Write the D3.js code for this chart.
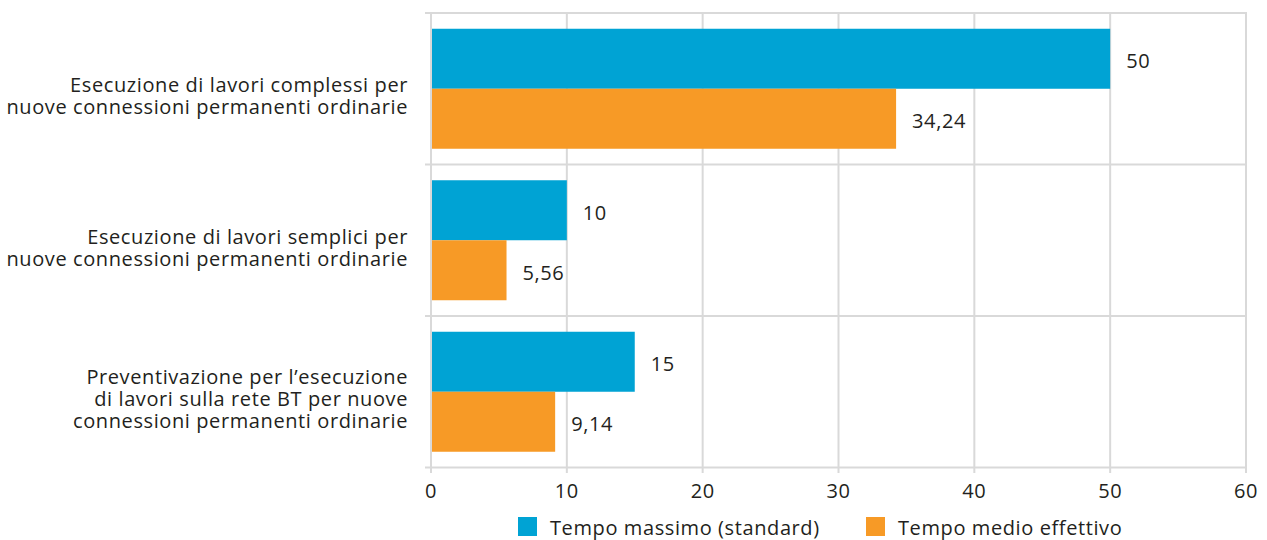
<!DOCTYPE html>
<meta charset="utf-8">
<html>
<head>
	<script src="https://cdn.jsdelivr.net/npm/d3@7"></script>
	<style>
		body { margin: 0; background: #fff; }
		text { font-family: "Open Sans", sans-serif; fill: #231f20; letter-spacing: 0.6px; }
	</style>
</head>
<body>
	<svg id="chart" width="1267" height="540"></svg>
	<script>
		// categories, top to bottom (each one split in lines)
		var categories = [
			["Esecuzione di lavori complessi per", "nuove connessioni permanenti ordinarie"],
			["Esecuzione di lavori semplici per", "nuove connessioni permanenti ordinarie"],
			["Preventivazione per l\u2019esecuzione", "di lavori sulla rete BT per nuove", "connessioni permanenti ordinarie"]
		];
		var seriesNames = ["Tempo massimo (standard)", "Tempo medio effettivo"];
		var tempoMassimo = [50, 10, 15];
		var tempoMedio = [34.24, 5.56, 9.14];
		var xTicks = [0, 10, 20, 30, 40, 50, 60];

		var colors = ["#00a3d4", "#f79a26"];
		var gridColor = "#d9d9d9";

		var svg = d3.select("#chart");

		var x = d3.scaleLinear()
			.domain([0, 60])
			.range([431, 1246]);

		var y = d3.scaleBand()
			.domain(d3.range(categories.length))
			.range([13, 467.5]);

		var ySub = d3.scaleBand()
			.domain([0, 1])
			.range([0, y.bandwidth()])
			.paddingOuter(0.2625);

		var fmt = function(v) { return String(v).replace(".", ","); };

		// vertical grid lines (with the tick marks below the axis)
		svg.append("g")
			.selectAll("line")
			.data(xTicks)
			.join("line")
				.attr("x1", function(d) { return x(d); })
				.attr("x2", function(d) { return x(d); })
				.attr("y1", 13)
				.attr("y2", 473)
				.attr("stroke", gridColor)
				.attr("stroke-width", 2);

		// horizontal lines between categories
		var bounds = d3.range(categories.length).map(function(i) { return y(i); }).concat([y.range()[1]]);
		svg.append("g")
			.selectAll("line")
			.data(bounds)
			.join("line")
				.attr("x1", 425)
				.attr("x2", x(60) + 1)
				.attr("y1", function(d) { return d; })
				.attr("y2", function(d) { return d; })
				.attr("stroke", gridColor)
				.attr("stroke-width", 2);

		// bars
		var rows = categories.map(function(c, i) {
			return [tempoMassimo[i], tempoMedio[i]];
		});

		var groups = svg.append("g")
			.selectAll("g")
			.data(rows)
			.join("g")
				.attr("transform", function(d, i) { return "translate(0," + y(i) + ")"; });

		groups.selectAll("rect")
			.data(function(d) { return d; })
			.join("rect")
				.attr("x", x(0) + 1)
				.attr("y", function(d, j) { return ySub(j); })
				.attr("width", function(d) { return x(d) - x(0) - 1; })
				.attr("height", ySub.bandwidth())
				.attr("fill", function(d, j) { return colors[j]; });

		groups.selectAll("text")
			.data(function(d) { return d; })
			.join("text")
				.attr("x", function(d) { return x(d) + 16; })
				.attr("y", function(d, j) { return ySub(j) + ySub.bandwidth() / 2 + 2; })
				.attr("dominant-baseline", "central")
				.attr("font-size", 20)
				.text(fmt);

		// category labels
		var lineH = 22;
		svg.append("g")
			.selectAll("text")
			.data(categories)
			.join("text")
				.attr("text-anchor", "end")
				.attr("font-size", 20)
				.each(function(lines, i) {
					var cy = y(i) + y.bandwidth() / 2 + 7;
					var t = d3.select(this);
					lines.forEach(function(l, k) {
						t.append("tspan")
							.attr("x", 408)
							.attr("y", cy + (k - (lines.length - 1) / 2) * lineH)
							.attr("dominant-baseline", "central")
							.text(l);
					});
				});

		// x axis tick labels
		svg.append("g")
			.selectAll("text")
			.data(xTicks)
			.join("text")
				.attr("x", function(d) { return x(d); })
				.attr("y", 490)
				.attr("text-anchor", "middle")
				.attr("dominant-baseline", "central")
				.attr("font-size", 20)
				.text(function(d) { return d; });

		// legend
		var legendX = [518, 866];
		var legend = svg.append("g")
			.selectAll("g")
			.data(seriesNames)
			.join("g")
				.attr("transform", function(d, i) { return "translate(" + legendX[i] + ",517)"; });

		legend.append("rect")
			.attr("width", 19)
			.attr("height", 19)
			.attr("fill", function(d, i) { return colors[i]; });

		legend.append("text")
			.attr("x", 32)
			.attr("y", 10)
			.attr("dominant-baseline", "central")
			.attr("font-size", 20)
			.text(function(d) { return d; });
	</script>
</body>
</html>
